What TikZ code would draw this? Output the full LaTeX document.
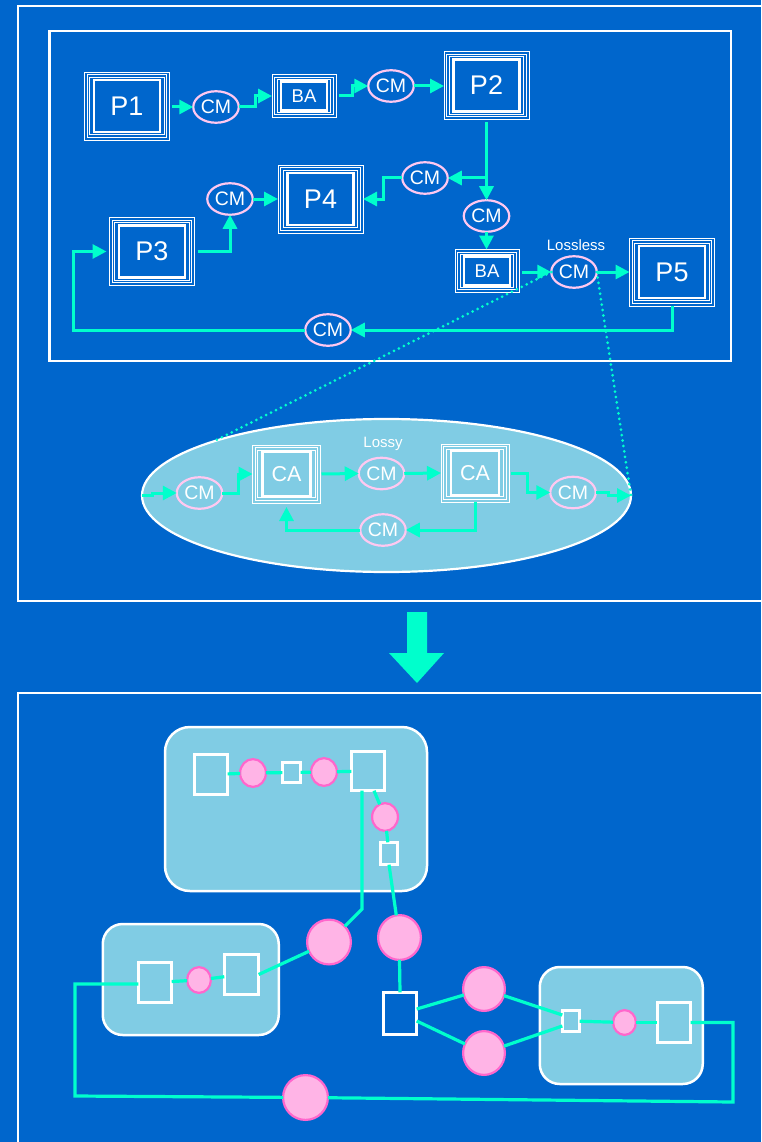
\documentclass[tikz,border=0pt]{standalone}
\usepackage{fontspec}
\setmainfont{Liberation Sans}
\usetikzlibrary{arrows.meta,shapes.geometric}

\definecolor{bgblue}{RGB}{0,102,204}
\definecolor{panel}{RGB}{128,204,228}
\definecolor{flow}{RGB}{0,255,204}
\definecolor{cmrim}{RGB}{255,200,240}
\definecolor{dotfill}{RGB}{255,180,230}
\definecolor{dotrim}{RGB}{255,102,204}

% inner frames of a boxed component: two thin rules and one heavy rule
\newcommand\boxlines[3]{%
  \draw[white,line width=0.8pt] ([shift={(2.7,2.7)}]#1.north west) rectangle ([shift={(-2.7,-2.7)}]#1.south east);
  \draw[white,line width=0.8pt] ([shift={(5.2,5.2)}]#1.north west) rectangle ([shift={(-5.2,-5.2)}]#1.south east);
  \draw[white,line width=2.8pt] ([shift={(#2,#3)}]#1.north west) rectangle ([shift={(-#2,-#3)}]#1.south east);
}

\tikzset{
  proc/.style={draw=white, line width=0.8pt, minimum width=85pt, minimum height=68pt,
    inner sep=0pt, outer sep=0pt, text=white, font=\fontsize{27}{27}\selectfont},
  buf/.style={proc, minimum width=64pt, minimum height=43pt, font=\fontsize{18.5}{18.5}\selectfont},
  cmp/.style={proc, minimum width=68pt, minimum height=58pt, font=\fontsize{21.5}{21.5}\selectfont},
  chan/.style={ellipse, draw=cmrim, line width=2.2pt, minimum width=45.5pt, minimum height=31.5pt,
    inner sep=0pt, outer sep=0pt, text=white, font=\fontsize{19.5}{19.5}\selectfont},
  lbl/.style={text=white, inner sep=0pt, font=\fontsize{15}{15}\selectfont},
  conn/.style={flow, line width=3pt, -{Triangle[length=14pt,width=14pt]}},
  dotline/.style={flow, line width=3pt, line cap=round, dash pattern=on 0pt off 5.5pt},
  panelframe/.style={white, line width=2.4pt},
  group/.style={draw=white, fill=panel, line width=2.5pt, inner sep=0pt, outer sep=0pt},
  sq/.style={draw=white, line width=2.6pt, inner sep=0pt, outer sep=0pt},
  blob/.style={ellipse, draw=dotrim, fill=dotfill, line width=2.2pt, inner sep=0pt, outer sep=0pt},
  link/.style={flow, line width=3.2pt},
}

\begin{document}
\begin{tikzpicture}[x=1pt,y=-1pt]
\useasboundingbox (0,0) rectangle (761,1142);
\fill[bgblue] (0,0) rectangle (761,1142);
\clip (0,0) rectangle (761,1142);

% ---------------- upper panel ----------------
\draw[panelframe] (18,6) rectangle (775,601);
\draw[panelframe, line width=2.3pt] (49.5,31) rectangle (731,361);

% processes
\node[proc] (P1) at (127,106) {P1};      \boxlines{P1}{9.5}{8}
\node[proc] (P2) at (486.5,85.5) {P2};   \boxlines{P2}{9.5}{8}
\node[proc] (P3) at (152,251.5) {P3};    \boxlines{P3}{9.5}{8}
\node[proc] (P4) at (320.5,199) {P4};    \boxlines{P4}{9.5}{8}
\node[proc] (P5) at (672,272) {P5};      \boxlines{P5}{9.5}{8}

% buffers
\node[buf] (BA1) at (304,96) {BA};       \boxlines{BA1}{9}{6.8}
\node[buf] (BA2) at (487,271) {BA};      \boxlines{BA2}{9}{6.8}

% channels
\node[chan] (CM1) at (216,107) {CM};
\node[chan] (CM2) at (391,86) {CM};
\node[chan] (CM3) at (486.5,216) {CM};
\node[chan] (CM4) at (425,178) {CM};
\node[chan] (CM5) at (574,272) {CM};
\node[chan] (CM6) at (328,330) {CM};
\node[chan] (CM7) at (230,199) {CM};
\node[lbl] (lossless) at (576,245) {Lossless};

\coordinate (fork) at (486.5,178);
\coordinate (loopx) at (73,330);

\draw[conn, shorten <=2pt] (P1.east |- CM1.west) -- (CM1.west);
\draw[conn] (CM1.east) -- ++(17,0) |- (BA1.west);
\draw[conn, shorten <=3pt] (BA1.east) -- ++(16,0) |- (CM2.west);
\draw[conn] (CM2.east) -- (P2.west |- CM2.east);
\draw[conn, shorten <=3pt] (P2.south) -- (CM3.north);
\draw[conn] (fork) -- (CM4.east);
\draw[conn] (CM4.west) -- ++(-19,0) |- (P4.east);
\draw[conn] (CM3.south) -- (CM3.south |- BA2.north);
\draw[conn, shorten <=3pt] (BA2.east |- CM5.west) -- (CM5.west);
\draw[conn] (CM5.east) -- (P5.west);
\draw[conn] (P5.south) |- (CM6.east);
\draw[conn, shorten >=3pt] (CM6.west) -- (loopx) |- (P3.west);
\draw[conn, shorten <=3pt] (P3.east) -| (CM7.south);
\draw[conn] (CM7.east) -- (P4.west);

% detail of the lossless channel
\node[ellipse, draw=white, fill=panel, line width=2.2pt, minimum width=489pt, minimum height=153pt,
  inner sep=0pt, outer sep=0pt] (zoomell) at (386.5,495.5) {};

\draw[dotline] (CM5.west) -- (zoomell.north west);
\draw[dotline] (CM5.east) -- (zoomell.east);

\node[cmp] (CA1) at (286.5,474) {CA};    \boxlines{CA1}{10}{7}
\node[cmp] (CA2) at (475,473) {CA};      \boxlines{CA2}{10}{7}
\node[chan] (CMa) at (199.5,493) {CM};
\node[chan] (CMb) at (381.5,473.5) {CM};
\node[chan] (CMc) at (573,492.5) {CM};
\node[chan] (CMd) at (383,530) {CM};
\node[lbl] (lossy) at (383,444) {Lossy};

\draw[conn] (zoomell.west) -- ++(10,0) |- (CMa.west);
\draw[conn] (CMa.east) -- ++(16,0) |- (CA1.west);
\draw[conn, shorten <=1pt] (CA1.east) -- (CMb.west);
\draw[conn] (CMb.east) -- (CA2.west);
\draw[conn, shorten <=2pt] (CA2.east) -- ++(18,0) |- (CMc.west);
\draw[conn] (CMc.east) -- ++(13,0) |- (zoomell.east);
\draw[conn] (CA2.south) |- (CMd.east);
\draw[conn, shorten >=4pt] (CMd.west) -| (CA1.south);

% transformation arrow
\fill[flow] (407,612) -- (427,612) -- (427,653) -- (444,653) -- (417,683)
  -- (389,653) -- (407,653) -- cycle;

% ---------------- lower panel ----------------
\draw[panelframe] (18,693) rectangle (775,1160);

\node[group, minimum width=262pt, minimum height=164pt, rounded corners=25pt] (grpA) at (296,809) {};
\node[group, minimum width=176pt, minimum height=111pt, rounded corners=20pt] (grpB) at (190.75,979.5) {};
\node[group, minimum width=163pt, minimum height=117pt, rounded corners=20pt] (grpC) at (621.25,1025.5) {};

\node[sq, minimum width=33.4pt, minimum height=40.4pt] (a1) at (211,774.5) {};
\node[sq, minimum width=18.4pt, minimum height=20.4pt] (a2) at (291.5,772.5) {};
\node[sq, minimum width=33.4pt, minimum height=39.4pt] (a3) at (368,771) {};
\node[sq, minimum width=17.4pt, minimum height=22.4pt] (a4) at (389,853.5) {};
\node[sq, minimum width=33.4pt, minimum height=40.4pt] (b1) at (155,982.5) {};
\node[sq, minimum width=34.4pt, minimum height=40.4pt] (b2) at (241.5,974.5) {};
\node[sq, minimum width=33.4pt, minimum height=42.4pt] (s)  at (400,1013.5) {};
\node[sq, minimum width=17.4pt, minimum height=21.4pt] (g1) at (571,1021) {};
\node[sq, minimum width=33.4pt, minimum height=40.4pt] (g2) at (674,1022.5) {};

\node[blob, minimum width=25.8pt, minimum height=27.8pt] (c1) at (253,773) {};
\node[blob, minimum width=25.8pt, minimum height=27.8pt] (c2) at (324,772) {};
\node[blob, minimum width=25.8pt, minimum height=27.8pt] (c3) at (385,817) {};
\node[blob, minimum width=23.8pt, minimum height=25.8pt] (d1) at (199,980) {};
\node[blob, minimum width=22.8pt, minimum height=24.8pt] (d2) at (624.5,1022.5) {};
\node[blob, minimum width=43.8pt, minimum height=44.8pt] (B1) at (329,942) {};
\node[blob, minimum width=42.8pt, minimum height=44.8pt] (B2) at (399.5,937.5) {};
\node[blob, minimum width=41.8pt, minimum height=43.8pt] (F1) at (484,989) {};
\node[blob, minimum width=41.8pt, minimum height=43.8pt] (F2) at (484,1053) {};
\node[blob, minimum width=44.8pt, minimum height=44.8pt] (E)  at (305.5,1097.5) {};

\coordinate (k1) at (362,909);
\coordinate (m1) at (75,984);
\coordinate (m2) at (75,1096);
\coordinate (m3) at (733,1102);

\foreach \u/\v in {a1/c1, c1/a2, a2/c2, c2/a3, c3/a4, b1/d1, d1/b2, g1/d2, d2/g2}
  \draw[link] (\u) -- (\v);
\draw[link] ([shift={(6,0)}]a3.south) -- (c3);
\draw[link] (a4.south) -- (B2);
\draw[link] ([shift={(-6,0)}]a3.south) -- (k1) -- (B1);
\draw[link] (b2.east) -- (B1);
\draw[link] (b1.west |- m1) -- (m1) -- (m2) -- (E);
\draw[link] (E) -- (m3) |- (g2.east);
\draw[link] (B2.south) -- (s.north);
\draw[link] ([shift={(0,-4.5)}]s.east) -- (F1);
\draw[link] ([shift={(0,7.5)}]s.east) -- (F2);
\draw[link] (F1) -- ([shift={(0,-6)}]g1.west);
\draw[link] (F2) -- ([shift={(0,5)}]g1.west);
\end{tikzpicture}
\end{document}
